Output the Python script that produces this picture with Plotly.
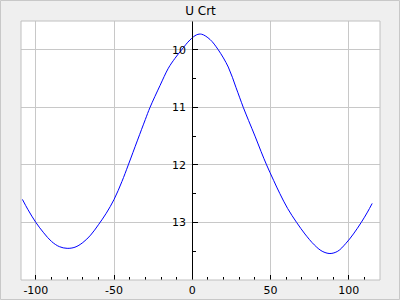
import plotly.graph_objects as go

title_text = "U Crt"
x_vals = [-108.6, -105, -100, -95, -90, -85, -80, -75, -70, -65, -60, -55, -50, -45,
          -40.9, -35, -30, -27, -20.6, -15.3, -11.1, -6.8, -1.5, 2.8, 6, 11.3, 16.6,
          23, 28, 32.6, 36, 40.1, 44, 47.5, 52, 56, 61, 66.7, 72, 78, 83, 88, 93, 98,
          103, 108, 112, 115]
y_vals = [12.6, 12.78, 13.0, 13.18, 13.33, 13.42, 13.45, 13.43, 13.35, 13.22, 13.04, 12.84,
          12.6, 12.29, 12.0, 11.57, 11.21, 11.0, 10.62, 10.32, 10.15, 10.0, 9.83, 9.74,
          9.73, 9.82, 10.0, 10.30, 10.66, 11.0, 11.23, 11.5, 11.77, 12.0, 12.27, 12.5,
          12.76, 13.0, 13.2, 13.39, 13.5, 13.54, 13.5, 13.37, 13.2, 13.0, 12.82, 12.67]
x_ticks = [-100, -50, 0, 50, 100]
x_tick_text = ["-100", "-50", "0", "50", "100"]
y_ticks = [10, 11, 12, 13]
y_tick_text = ["10", "11", "12", "13"]

x_range = [-109.5, 120]
y_range = [14.0, 9.5]

W, H = 400, 300
ml, mr, mt, mb = 21, 20, 21, 20
pw, ph = W - ml - mr, H - mt - mb

fig = go.Figure(go.Scatter(x=x_vals, y=y_vals, mode="lines",
                           line=dict(color="#0000ff", width=1, shape="spline", smoothing=1.0),
                           hoverinfo="skip"))

grid = "#c8c8c8"
fig.update_layout(
    width=W, height=H,
    margin=dict(l=ml, r=mr, t=mt, b=mb, pad=0, autoexpand=False),
    paper_bgcolor="#efefef", plot_bgcolor="#ffffff",
    font=dict(family="DejaVu Sans", size=11, color="#000000"),
    showlegend=False,
    title=dict(text=title_text, x=0.5, xref="paper", xanchor="center",
               y=1 - 10.7 / H, yref="container", yanchor="middle",
               font=dict(size=12, family="DejaVu Sans", color="#000000")),
    xaxis=dict(range=x_range, tickmode="array", tickvals=x_ticks, ticktext=x_tick_text,
               automargin=False,
               showgrid=True, gridcolor=grid, gridwidth=1, zeroline=False,
               showline=False, ticks="inside", ticklen=5, tickwidth=1, tickcolor="#000000",
               ticklabelstandoff=2,
               minor=dict(dtick=10, tick0=0, ticks="inside", ticklen=3, tickcolor="#000000",
                          showgrid=False)),
    yaxis=dict(range=y_range, tickmode="array", tickvals=y_ticks, ticktext=y_tick_text,
               automargin=False,
               anchor="free", position=(0 - x_range[0]) / (x_range[1] - x_range[0]),
               side="left",
               showgrid=True, gridcolor=grid, gridwidth=1, zeroline=False,
               showline=True, linecolor="#000000", linewidth=1,
               ticks="inside", ticklen=5, tickwidth=1, tickcolor="#000000",
               ticklabelstandoff=4,
               minor=dict(dtick=0.5, tick0=0, ticks="inside", ticklen=3, tickcolor="#000000",
                          showgrid=False)),
    shapes=[
        dict(type="rect", xref="paper", yref="paper", x0=0, x1=1, y0=0, y1=1,
             line=dict(color="#c0c0c0", width=1), fillcolor="rgba(0,0,0,0)", layer="above"),
        dict(type="rect", xref="paper", yref="paper",
             x0=-(ml - 0.5) / pw, x1=1 + (mr - 0.5) / pw,
             y0=-(mb - 0.5) / ph, y1=1 + (mt - 0.5) / ph,
             line=dict(color="#c8c8c8", width=1), fillcolor="rgba(0,0,0,0)", layer="above"),
    ],
)

fig.write_html("out.html")
